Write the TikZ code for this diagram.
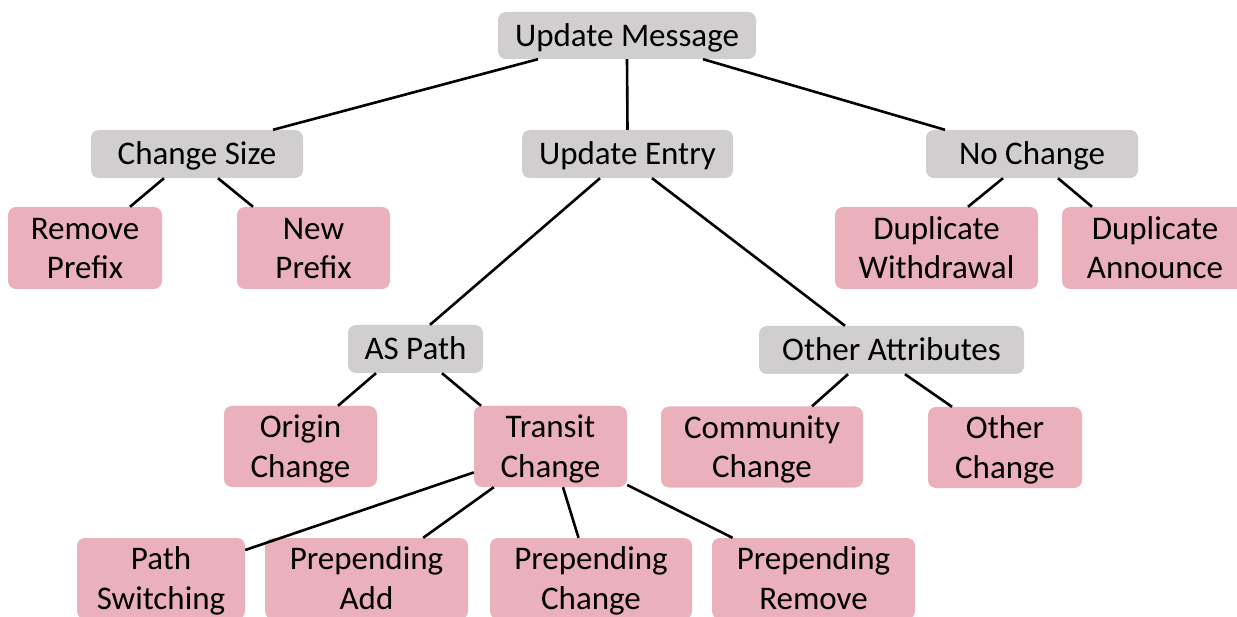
\documentclass[tikz,border=0pt]{standalone}
\usepackage{fontspec}
\setmainfont{Carlito}
\definecolor{boxgray}{RGB}{208,206,207}
\definecolor{boxpink}{RGB}{234,176,187}
\newcommand\ls{\rule[-8.75pt]{0pt}{39.5pt}}
\tikzset{
  base/.style={rounded corners=8pt, inner sep=0pt, align=center, anchor=center,
    font=\fontsize{33}{39.5}\selectfont, text=black},
  graybox/.style={base, fill=boxgray},
  pinkbox/.style={base, fill=boxpink},
  link/.style={line width=2.6pt, draw=black},
}
\begin{document}
\begin{tikzpicture}[x=1pt,y=-1pt]
\useasboundingbox (0,0) rectangle (1237,617);
\clip (0,0) rectangle (1237,617);
% level 0
\node[graybox, minimum width=258pt, minimum height=47pt] (um) at (627,35.5) {\ls Update Message};
% level 1
\node[graybox, minimum width=212pt, minimum height=48pt] (cs) at (197,154) {\ls Change Size};
\node[graybox, minimum width=211pt, minimum height=48pt] (ue) at (627.5,154) {\ls Update Entry};
\node[graybox, minimum width=212pt, minimum height=48pt] (nc) at (1032,154) {\ls No Change};
% level 2
\node[pinkbox, minimum width=154pt, minimum height=82pt] (rp) at (85,248) {\ls Remove\\\ls Prefix};
\node[pinkbox, minimum width=153pt, minimum height=82pt] (np) at (313.5,248) {\ls New\\\ls Prefix};
\node[pinkbox, minimum width=203pt, minimum height=82pt] (dw) at (936.5,248) {\ls Duplicate\\\ls Withdrawal};
\node[pinkbox, minimum width=186pt, minimum height=82pt] (da) at (1155,248) {\ls Duplicate\\\ls Announce};
% level 3
\node[graybox, minimum width=135pt, minimum height=48pt] (as) at (415.5,349) {\ls AS Path};
\node[graybox, minimum width=265pt, minimum height=48pt] (oa) at (891.5,350) {\ls Other Attributes};
% level 4
\node[pinkbox, minimum width=153pt, minimum height=81pt] (oc) at (300.5,446.5) {\ls Origin\\\ls Change};
\node[pinkbox, minimum width=153pt, minimum height=81pt] (tc) at (550.5,446.5) {\ls Transit\\\ls Change};
\node[pinkbox, minimum width=202pt, minimum height=81pt] (cc) at (762,447) {\ls Community\\\ls Change};
\node[pinkbox, minimum width=154pt, minimum height=81pt] (otc) at (1005,447.5) {\ls Other\\\ls Change};
% level 5
\node[pinkbox, minimum width=168pt, minimum height=81pt] (ps) at (161,578.5) {\ls Path\\\ls Switching};
\node[pinkbox, minimum width=203pt, minimum height=81pt] (pa) at (366.5,578.5) {\ls Prepending\\\ls Add};
\node[pinkbox, minimum width=202pt, minimum height=81pt] (pc) at (591,578.5) {\ls Prepending\\\ls Change};
\node[pinkbox, minimum width=203pt, minimum height=81pt] (pr) at (813.5,578.5) {\ls Prepending\\\ls Remove};
% connectors
\draw[link] ([xshift=-89pt]um.south) -- ([xshift=76pt]cs.north);
\draw[link] (um.south) -- (ue.north);
\draw[link] ([xshift=76pt]um.south) -- ([xshift=-87pt]nc.north);
\draw[link] ([xshift=-33pt]cs.south) -- ([xshift=45pt]rp.north);
\draw[link] ([xshift=21pt]cs.south) -- ([xshift=-60.5pt]np.north);
\draw[link] ([xshift=-29pt]nc.south) -- ([xshift=31.5pt]dw.north);
\draw[link] ([xshift=26pt]nc.south) -- ([xshift=-63pt]da.north);
\draw[link] ([xshift=-27.5pt]ue.south) -- ([xshift=14.5pt]as.north);
\draw[link] ([xshift=24.5pt]ue.south) -- ([xshift=-46.5pt]oa.north);
\draw[link] ([xshift=-39.5pt]as.south) -- ([xshift=37.5pt]oc.north);
\draw[link] ([xshift=26.5pt]as.south) -- ([xshift=-69.5pt]tc.north);
\draw[link] ([xshift=-43.5pt]oa.south) -- ([xshift=50pt]cc.north);
\draw[link] ([xshift=13.5pt]oa.south) -- ([xshift=-53pt]otc.north);
\draw[link] (tc) -- (ps);
\draw[link] (tc) -- (pa);
\draw[link] (tc) -- (pc);
\draw[link] (tc) -- (pr);
\end{tikzpicture}
\end{document}
